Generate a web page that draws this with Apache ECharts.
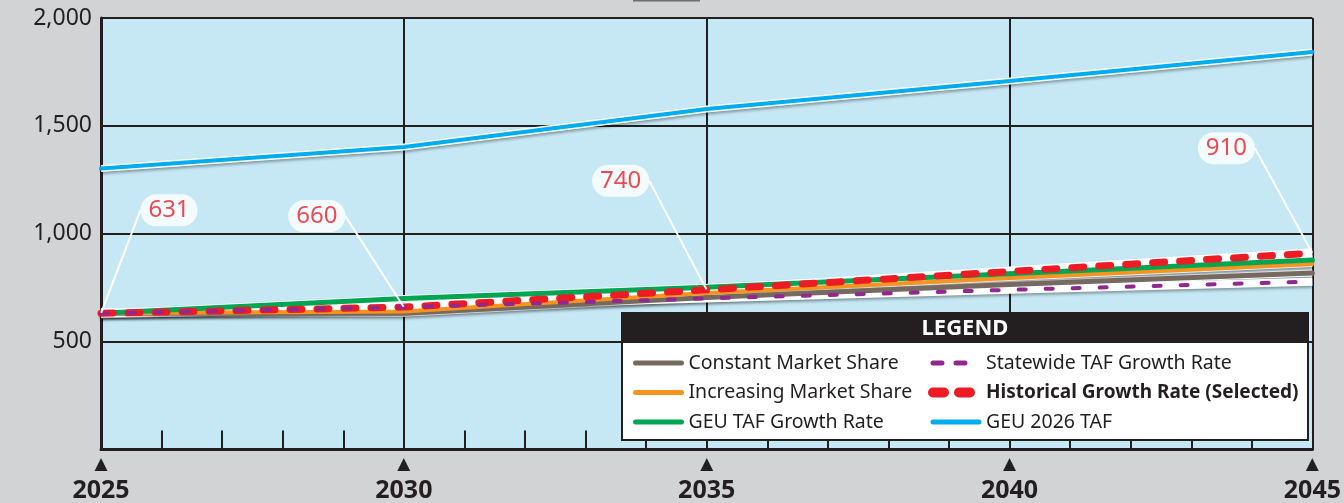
<!DOCTYPE html>
<html><head><meta charset="utf-8">
<script src="https://cdn.jsdelivr.net/npm/echarts@6/dist/echarts.min.js"></script>
<style>html,body{margin:0;padding:0;background:#d1d3d4;}#c{width:1344px;height:503px;}</style>
</head><body><div id="c"></div>
<script>
const years = [2025, 2030, 2035, 2040, 2045];
const constantShare = [631, 632, 705, 765, 818];
const increasingShare = [631, 640, 725, 795, 860];
const geuGrowth = [631, 700, 752, 815, 878];
const statewide = [631, 660, 700, 740, 778];
const historical = [631, 660, 740, 825, 910];
const geu2026 = [1302, 1402, 1578, 1708, 1842];
const labelIndices = [0, 1, 2, 4];
const seriesNames = ['Constant Market Share', 'Increasing Market Share', 'GEU TAF Growth Rate',
  'Statewide TAF Growth Rate', 'Historical Growth Rate (Selected)', 'GEU 2026 TAF'];

const FONT = 'Noto Sans';
const INK = '#231f20';
const pairs = arr => years.map((y, i) => [y, arr[i]]);

function casing(arr, width, z) {
  return { type: 'line', data: pairs(arr), symbol: 'none', silent: true, z: z || 2,
    lineStyle: { color: '#ffffff', width: width, shadowColor: 'rgba(0,0,0,0.35)', shadowBlur: 3, shadowOffsetY: 2 },
    animation: false };
}
function line(name, arr, color, width, type, z, cap) {
  return { name: name, type: 'line', data: pairs(arr), symbol: 'none', showSymbol: false, z: z || 3,
    lineStyle: { color: color, width: width, type: type || 'solid', cap: cap || 'round' },
    itemStyle: { color: color }, animation: false };
}

const labelOffsets = { 0: [68, -103], 1: [-87, -91], 2: [-86, -109], 3: [-86, -105] };

function legendItem(name, width, type, bold) {
  const it = { name: name, lineStyle: { width: width, cap: 'round' } };
  if (type) it.lineStyle.type = type;
  if (bold) it.textStyle = { fontWeight: 'bold', fontSize: 19 };
  return it;
}

const legendCommon = {
  orient: 'vertical', itemWidth: 46, itemHeight: 14, itemGap: 7.5, selectedMode: false, z: 20,
  itemStyle: { opacity: 0 },
  textStyle: { fontSize: 19.5, color: INK, lineHeight: 22, fontFamily: FONT, padding: [0, 0, 0, 2] }
};

const option = {
  backgroundColor: '#d1d3d4',
  animation: false,
  grid: { left: 101, right: 29, top: 18, bottom: 50, show: true, backgroundColor: '#c5e8f4', borderWidth: 0 },
  xAxis: {
    type: 'value', min: 2025, max: 2045, interval: 5,
    axisLine: { show: true, lineStyle: { color: INK, width: 3 } },
    splitLine: { show: true, lineStyle: { color: INK, width: 2 } },
    axisTick: { show: true, inside: true, length: 19, lineStyle: { color: INK, width: 2 } },
    minorTick: { show: true, splitNumber: 5, length: 19, lineStyle: { color: INK, width: 2 } },
    axisLabel: {
      margin: 4,
      formatter: v => '{t|▲}\n{y|' + v + '}',
      rich: {
        t: { fontSize: 17, color: INK, lineHeight: 22, fontFamily: 'DejaVu Sans' },
        y: { fontSize: 25, fontWeight: 'bold', color: INK, lineHeight: 30, fontFamily: FONT }
      }
    }
  },
  yAxis: {
    type: 'value', min: 0, max: 2000, interval: 500,
    axisLine: { show: true, lineStyle: { color: INK, width: 3 } },
    axisTick: { show: false },
    splitLine: { show: true, lineStyle: { color: INK, width: 2 } },
    axisLabel: { margin: 9, fontSize: 23, color: INK, fontFamily: FONT,
      formatter: v => v === 0 ? '' : v.toLocaleString('en-US') }
  },
  legend: [
    Object.assign({ data: [legendItem(seriesNames[0], 5), legendItem(seriesNames[1], 5), legendItem(seriesNames[2], 5)],
      left: 628, top: 347 }, legendCommon),
    Object.assign({ data: [legendItem(seriesNames[3], 5, [9, 14]), legendItem(seriesNames[4], 10, [11, 15], true),
      legendItem(seriesNames[5], 5)], left: 923, top: 347 }, legendCommon)
  ],
  graphic: [
    { type: 'rect', z: 15, shape: { x: 622, y: 313, width: 686, height: 127 },
      style: { fill: '#ffffff', stroke: INK, lineWidth: 2 } },
    { type: 'rect', z: 16, shape: { x: 622, y: 313, width: 686, height: 30 }, style: { fill: INK } },
    { type: 'text', z: 17, x: 965, y: 329,
      style: { text: 'LEGEND', fill: '#ffffff', fontSize: 22, fontWeight: 'bold', fontFamily: FONT,
        align: 'center', verticalAlign: 'middle' } },
    { type: 'rect', z: 17, shape: { x: 633, y: 0, width: 67, height: 1.5 }, style: { fill: '#6d6e71' } }
  ],
  series: [
    casing(geu2026, 7),
    line(seriesNames[5], geu2026, '#00aeef', 4),
    casing(constantShare, 7),
    casing(increasingShare, 6),
    casing(geuGrowth, 7),
    casing(historical, 10),
    casing(statewide, 8),
    line(seriesNames[0], constantShare, '#766a60', 5),
    line(seriesNames[1], increasingShare, '#f7941d', 4),
    line(seriesNames[2], geuGrowth, '#00a651', 5),
    line(seriesNames[4], historical, '#ed1c24', 7, [12, 15], 3, 'round'),
    line(seriesNames[3], statewide, '#92278f', 4, [7, 20], 3, 'round'),
    {
      type: 'scatter', z: 6, silent: true,
      data: labelIndices.map(i => [years[i], historical[i]]),
      symbol: 'circle', symbolSize: 1, itemStyle: { color: 'rgba(0,0,0,0)' },
      label: {
        show: true, position: 'inside', formatter: p => String(p.value[1]),
        backgroundColor: '#ffffff', borderRadius: 18, padding: [5, 8, 3, 8],
        fontSize: 24, color: '#ed1c24', fontFamily: FONT
      },
      labelLine: { show: true, lineStyle: { color: '#ffffff', width: 2 } },
      labelLayout: p => ({ dx: labelOffsets[p.dataIndex][0], dy: labelOffsets[p.dataIndex][1] })
    }
  ]
};
const chart = echarts.init(document.getElementById('c'), null, { renderer: 'canvas' });
chart.setOption(option);
</script>
</body></html>
